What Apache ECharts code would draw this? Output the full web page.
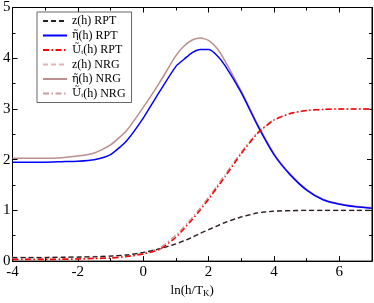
<!DOCTYPE html>
<html><head><meta charset="utf-8">
<script src="https://cdn.jsdelivr.net/npm/echarts@6/dist/echarts.min.js"></script>
<style>html,body{margin:0;padding:0;background:#fff}#c{width:374px;height:303px}</style>
</head><body><div id="c"></div>
<script>
var xs      = [-4,-3.5,-3,-2.5,-2,-1.5,-1,-0.5,0,0.5,1,1.25,1.5,1.75,2,2.25,2.5,3,3.5,4,4.5,5,5.5,6,6.5,7];
var zRPT    = [0.07,0.07,0.07,0.075,0.08,0.085,0.10,0.12,0.17,0.24,0.34,0.40,0.47,0.55,0.62,0.69,0.76,0.87,0.95,0.985,0.995,1.0,1.0,1.0,1.0,1.0];
var etaRPT  = [1.95,1.95,1.95,1.96,1.97,2.00,2.10,2.38,2.82,3.34,3.84,3.98,4.11,4.17,4.17,4.06,3.86,3.32,2.67,2.10,1.70,1.40,1.21,1.12,1.07,1.04];
var uRPT    = [0.03,0.03,0.03,0.035,0.04,0.05,0.06,0.09,0.14,0.23,0.47,0.64,0.82,1.01,1.22,1.44,1.66,2.12,2.52,2.78,2.91,2.97,2.99,3.0,3.0,3.0];
var zNRG    = [0.075,0.075,0.075,0.08,0.085,0.09,0.10,0.12,0.17,0.24,0.34,0.40,0.47,0.55,0.62,0.69,0.76,0.87,0.95,0.985,0.995,1.0,1.0,1.0,1.0,1.0];
var etaNRG  = [2.03,2.03,2.03,2.04,2.07,2.13,2.29,2.58,3.03,3.52,4.05,4.24,4.36,4.40,4.35,4.20,3.95,3.35,2.70,2.12,1.71,1.41,1.22,1.13,1.08,1.05];
var uNRG    = [0.05,0.05,0.05,0.05,0.05,0.06,0.07,0.10,0.16,0.26,0.51,0.68,0.86,1.05,1.26,1.48,1.70,2.15,2.54,2.79,2.91,2.97,2.99,3.0,3.0,3.0];
var names   = ['z(h) RPT','eta(h) RPT','U(h) RPT','z(h) NRG','eta(h) NRG','U(h) NRG'];
var legendLabels = ['z(h) RPT','{g|η̃}(h) RPT','{g|Ũ}{s|t}(h) RPT','z(h) NRG','{g|η̃}(h) NRG','{g|Ũ}{s|t}(h) NRG'];
var xTicks  = {min:-4,max:7,interval:2};
var yTicks  = {min:0,max:5,interval:1};

function pairs(ys){return xs.map(function(x,i){return [x,ys[i]];});}
var FONT='Liberation Serif';
var chart=echarts.init(document.getElementById('c'),null,{renderer:'canvas'});
function mkSeries(name,ys,color,type,width){
  return {name:name,type:'line',data:pairs(ys),symbol:'none',showSymbol:false,animation:false,smooth:0.2,
    lineStyle:{color:color,width:width,type:type},itemStyle:{color:color},xAxisIndex:0,yAxisIndex:0};
}
var dashDot=[6,2.5,1.5,2.5];
var series=[
  mkSeries(names[3],zNRG,'#e0b4b4',[5,3],1.5),
  mkSeries(names[4],etaNRG,'#bc8f8f','solid',1.5),
  mkSeries(names[5],uNRG,'#c8a0a0',dashDot,1.5),
  mkSeries(names[0],zRPT,'#222222',[5,3],1.3),
  mkSeries(names[1],etaRPT,'#0000ff','solid',1.5),
  mkSeries(names[2],uRPT,'#ff0000',dashDot,1.5),
  {name:'frame',type:'line',data:[[xTicks.min,yTicks.min]],symbol:'none',xAxisIndex:1,yAxisIndex:1,lineStyle:{opacity:0},silent:true}
];
function axisCommon(){
  return {axisLine:{show:true,onZero:false,lineStyle:{color:'#000',width:1}},
    axisTick:{show:true,inside:true,length:5,lineStyle:{color:'#000'}},
    minorTick:{show:true,splitNumber:2,length:3,lineStyle:{color:'#000'}},
    splitLine:{show:false},minorSplitLine:{show:false}};
}
var xb=Object.assign(axisCommon(),{type:'value',min:xTicks.min,max:xTicks.max,interval:xTicks.interval,position:'bottom',
  axisLabel:{show:true,fontFamily:FONT,fontSize:15,color:'#000',margin:3,showMaxLabel:false},
  name:'ln(h/T{s|K})',nameLocation:'middle',nameGap:20,
  nameTextStyle:{fontFamily:FONT,fontSize:13,color:'#000',rich:{s:{fontFamily:FONT,fontSize:9,verticalAlign:'bottom',padding:[6,0,0,0]}}}});
var xt=Object.assign(axisCommon(),{type:'value',min:xTicks.min,max:xTicks.max,interval:xTicks.interval,position:'top',axisLabel:{show:false}});
var yl=Object.assign(axisCommon(),{type:'value',min:yTicks.min,max:yTicks.max,interval:yTicks.interval,position:'left',
  axisLabel:{show:true,fontFamily:FONT,fontSize:15,color:'#000',margin:2}});
var yr=Object.assign(axisCommon(),{type:'value',min:yTicks.min,max:yTicks.max,interval:yTicks.interval,position:'right',axisLabel:{show:false}});
chart.setOption({
  animation:false,
  backgroundColor:'#fff',
  grid:{left:12,right:2,top:7,bottom:34,containLabel:false,show:true,borderColor:'#000',borderWidth:1,backgroundColor:'transparent'},
  xAxis:[xb,xt],
  yAxis:[yl,yr],
  legend:{orient:'vertical',left:37,top:12,data:names,itemWidth:24,itemHeight:10,itemGap:2.5,
    padding:[3,6,3,5],borderColor:'#666',borderWidth:1,backgroundColor:'#fff',
    itemStyle:{opacity:0,borderWidth:0},
    formatter:function(n){return legendLabels[names.indexOf(n)];},
    textStyle:{fontFamily:FONT,fontSize:12,color:'#000',lineHeight:11,
      rich:{g:{fontFamily:'DejaVu Serif',fontSize:11,lineHeight:11},
            s:{fontFamily:FONT,fontSize:7,lineHeight:11,verticalAlign:'bottom',padding:[4,0,0,0]}}}},
  series:series
});
</script></body></html>
